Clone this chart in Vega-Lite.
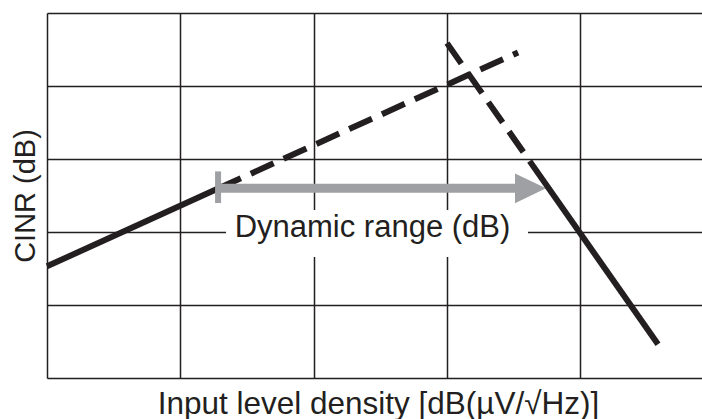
{
  "$schema": "https://vega.github.io/schema/vega-lite/v6.json",
  "width": 655,
  "height": 365,
  "padding": {"left": 47, "top": 13, "right": 0, "bottom": 41},
  "autosize": {"type": "none"},
  "background": "white",
  "config": {
    "view": {"stroke": null},
    "axis": {
      "grid": true,
      "gridColor": "#231f20",
      "gridWidth": 1.5,
      "gridOpacity": 1,
      "domain": false,
      "ticks": false,
      "labels": false,
      "titleFont": "Liberation Sans",
      "titleFontWeight": "normal",
      "titleColor": "#231f20"
    }
  },
  "datasets": {
    "lines": [
      {"seg": "l1s", "ord": 0, "u": 0, "v": 1.53},
      {"seg": "l1s", "ord": 1, "u": 1.283, "v": 2.595},
      {"seg": "l1d", "ord": 0, "u": 1.283, "v": 2.595},
      {"seg": "l1d", "ord": 1, "u": 3.533, "v": 4.46},
      {"seg": "l2d", "ord": 0, "u": 3.0, "v": 4.587},
      {"seg": "l2d", "ord": 1, "u": 3.62, "v": 2.971},
      {"seg": "l2s", "ord": 0, "u": 3.62, "v": 2.971},
      {"seg": "l2s", "ord": 1, "u": 4.5825, "v": 0.462}
    ]
  },
  "layer": [
    {
      "data": {"values": [{"x1": 1.3425, "x2": 3.6075, "y1": 1.656, "y2": 2.3}]},
      "mark": {"type": "rect", "color": "white"},
      "encoding": {
        "x": {
          "field": "x1", "type": "quantitative",
          "scale": {"domain": [0, 4.9125], "nice": false, "zero": false},
          "axis": {
            "values": [0, 1, 2, 3, 4],
            "title": "Input level density [dB(µV/√Hz)]",
            "titleFontSize": 31.5,
            "titlePadding": 35,
            "titleX": 331,
            "titleBaseline": "alphabetic"
          }
        },
        "x2": {"field": "x2"},
        "y": {
          "field": "y1", "type": "quantitative",
          "scale": {"domain": [0, 5], "nice": false, "zero": false},
          "axis": {
            "values": [0, 1, 2, 3, 4, 5],
            "title": "CINR (dB)",
            "titleFontSize": 29,
            "titlePadding": 13,
            "titleBaseline": "alphabetic"
          }
        },
        "y2": {"field": "y2"}
      }
    },
    {
      "data": {"values": [{"u": 2.441, "v": 1.926, "label": "Dynamic range (dB)"}]},
      "mark": {"type": "text", "font": "Liberation Sans", "fontSize": 31, "color": "#231f20", "align": "center", "baseline": "alphabetic"},
      "encoding": {
        "x": {"field": "u", "type": "quantitative"},
        "y": {"field": "v", "type": "quantitative"},
        "text": {"field": "label"}
      }
    },
    {
      "data": {"name": "lines"},
      "transform": [{"filter": "datum.seg === 'l1s'"}],
      "mark": {"type": "line", "color": "#231f20", "strokeWidth": 6, "strokeCap": "butt"},
      "encoding": {
        "x": {"field": "u", "type": "quantitative"},
        "y": {"field": "v", "type": "quantitative"},
        "order": {"field": "ord"}
      }
    },
    {
      "data": {"name": "lines"},
      "transform": [{"filter": "datum.seg === 'l1d'"}],
      "mark": {"type": "line", "color": "#231f20", "strokeWidth": 6, "strokeCap": "butt", "strokeDash": [25, 11]},
      "encoding": {
        "x": {"field": "u", "type": "quantitative"},
        "y": {"field": "v", "type": "quantitative"},
        "order": {"field": "ord"}
      }
    },
    {
      "data": {"values": [{"x1": 1.283, "x2": 3.53, "v": 2.598}]},
      "mark": {"type": "rule", "color": "#9fa0a3", "strokeWidth": 9},
      "encoding": {
        "x": {"field": "x1", "type": "quantitative"},
        "x2": {"field": "x2"},
        "y": {"field": "v", "type": "quantitative"}
      }
    },
    {
      "data": {"values": [{"u": 1.283, "v1": 2.397, "v2": 2.83}]},
      "mark": {"type": "rule", "color": "#9fa0a3", "strokeWidth": 6},
      "encoding": {
        "x": {"field": "u", "type": "quantitative"},
        "y": {"field": "v1", "type": "quantitative"},
        "y2": {"field": "v2"}
      }
    },
    {
      "data": {"values": [{"u": 3.6263, "v": 2.598}]},
      "mark": {"type": "point", "shape": "M-1,-0.96L1,0L-1,0.96Z", "size": 961, "filled": true, "color": "#9fa0a3", "opacity": 1, "strokeWidth": 0},
      "encoding": {
        "x": {"field": "u", "type": "quantitative"},
        "y": {"field": "v", "type": "quantitative"}
      }
    },
    {
      "data": {"name": "lines"},
      "transform": [{"filter": "datum.seg === 'l2d'"}],
      "mark": {"type": "line", "color": "#231f20", "strokeWidth": 6, "strokeCap": "butt", "strokeDash": [25, 11]},
      "encoding": {
        "x": {"field": "u", "type": "quantitative"},
        "y": {"field": "v", "type": "quantitative"},
        "order": {"field": "ord"}
      }
    },
    {
      "data": {"name": "lines"},
      "transform": [{"filter": "datum.seg === 'l2s'"}],
      "mark": {"type": "line", "color": "#231f20", "strokeWidth": 6, "strokeCap": "butt"},
      "encoding": {
        "x": {"field": "u", "type": "quantitative"},
        "y": {"field": "v", "type": "quantitative"},
        "order": {"field": "ord"}
      }
    }
  ]
}
